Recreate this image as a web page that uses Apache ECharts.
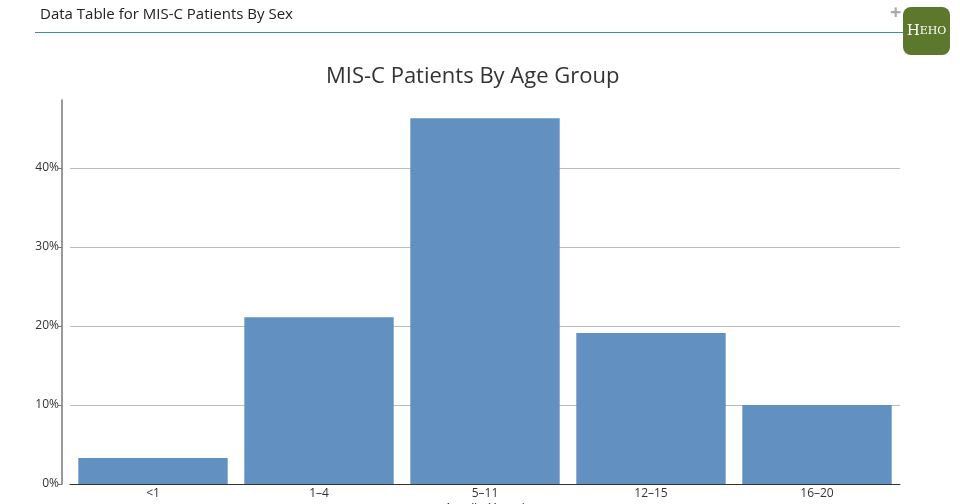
<!DOCTYPE html>
<html>
<head>
<meta charset="utf-8">
<script src="https://cdn.jsdelivr.net/npm/echarts@6/dist/echarts.min.js"></script>
<style>
html,body{margin:0;padding:0;background:#fff;}
#c{width:960px;height:504px;}
</style>
</head>
<body>
<div id="c"></div>
<script>
const categories = ['<1', '1\u20134', '5\u201311', '12\u201315', '16\u201320'];
const percentValues = [3.3, 21.1, 46.3, 19.1, 10.0];
const yTicks = [0, 10, 20, 30, 40];

const chart = echarts.init(document.getElementById('c'), null, {renderer: 'canvas'});
const font = '"Open Sans", "Noto Sans", sans-serif';
chart.setOption({
  animation: false,
  backgroundColor: '#fff',
  title: {
    text: 'MIS-C Patients By Age Group',
    left: 321,
    top: 61,
    textStyle: {fontFamily: font, fontSize: 22, fontWeight: 'normal', color: '#333'}
  },
  grid: {left: 70, right: 60, top: 100, bottom: 20, containLabel: false, outerBoundsMode: 'none'},
  xAxis: {
    type: 'category',
    data: categories,
    name: 'Age (in Years)',
    nameLocation: 'middle',
    nameGap: 18,
    nameMoveOverlap: false,
    nameTextStyle: {fontFamily: font, fontSize: 13, color: '#333', verticalAlign: 'top'},
    axisLine: {lineStyle: {color: '#333', width: 1}},
    axisTick: {alignWithLabel: true, length: 3, lineStyle: {color: '#666'}},
    axisLabel: {fontFamily: font, fontSize: 12, color: '#333', margin: 4}
  },
  yAxis: {
    type: 'value',
    min: 0,
    max: 48.6,
    interval: 10,
    offset: 8,
    axisLine: {show: true, lineStyle: {color: '#777', width: 1.5}},
    axisTick: {show: true, length: 4, lineStyle: {color: '#777'}},
    axisLabel: {fontFamily: font, fontSize: 12, color: '#333', margin: 3, showMaxLabel: false,
      formatter: v => yTicks.includes(v) ? v + '%' : ''},
    splitLine: {show: true, lineStyle: {color: ['transparent', '#bbb', '#bbb', '#bbb', '#bbb', 'transparent'], width: 1}}
  },
  series: [{
    type: 'bar',
    data: percentValues,
    barCategoryGap: '10%',
    itemStyle: {color: '#6190c1'}
  }],
  graphic: [
    {type: 'text', left: 40, top: 7, style: {text: 'Data Table for MIS-C Patients By Sex', font: '15px ' + font, fill: '#222'}},
    {type: 'line', shape: {x1: 35, y1: 32.5, x2: 905, y2: 32.5}, style: {stroke: '#3a8fa3', lineWidth: 1.2}},
    {type: 'text', left: 890, top: 3, style: {text: '+', font: 'bold 20px ' + font, fill: '#aaa'}},
    {type: 'rect', shape: {x: 903, y: 7, width: 47, height: 48, r: 8}, style: {fill: '#5b782c'}},
    {type: 'text', x: 926.5, y: 31, style: {
      text: '{a|H}{b|EHO}', align: 'center', verticalAlign: 'middle',
      rich: {
        a: {fontFamily: 'DejaVu Serif, serif', fontSize: 15, fill: '#fff', color: '#fff'},
        b: {fontFamily: 'DejaVu Serif, serif', fontSize: 11, fill: '#fff', color: '#fff'}
      }
    }}
  ]
});
</script>
</body>
</html>
